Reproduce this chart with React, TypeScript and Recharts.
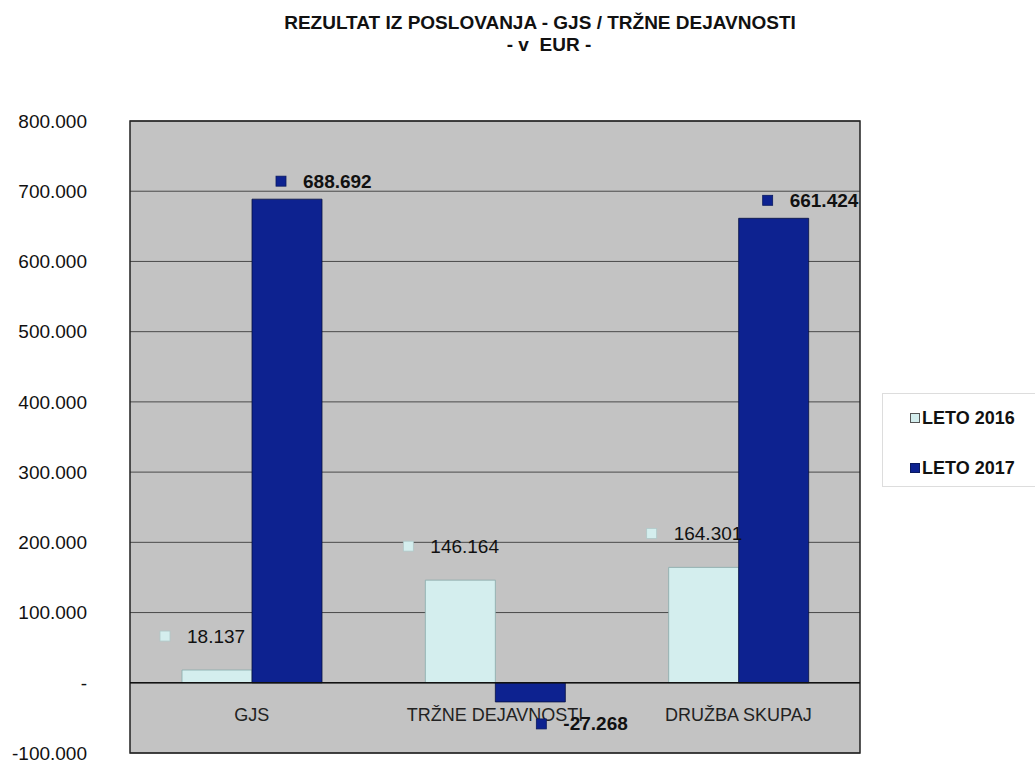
import React from "react"
import {
  Bar,
  BarChart,
  CartesianGrid,
  LabelList,
  ReferenceArea,
  ReferenceLine,
  XAxis,
  YAxis,
} from "recharts"

const categories = ["GJS", "TRŽNE DEJAVNOSTI", "DRUŽBA SKUPAJ"]
const leto2016 = [18137, 146164, 164301]
const leto2017 = [688692, -27268, 661424]
const yTicks = [-100000, 0, 100000, 200000, 300000, 400000, 500000, 600000, 700000, 800000]
const seriesNames = ["LETO 2016", "LETO 2017"]

const data = categories.map((name, i) => ({
  name,
  [seriesNames[0]]: leto2016[i],
  [seriesNames[1]]: leto2017[i],
}))

const C2016 = "#d4eeee"
const C2017 = "#0d2290"
const FONT = "'Liberation Sans', Arial, sans-serif"

const fmt = (v: number) => {
  if (v === 0) return "-"
  const s = Math.abs(v).toString().replace(/\B(?=(\d{3})+(?!\d))/g, ".")
  return (v < 0 ? "-" : "") + s
}

function makeLabel(fill: string, bold: boolean, dx: number, up: number) {
  return (props: any) => {
    const { x, y, width, height, value } = props
    const top = Math.min(y, y + height)
    const bottom = Math.max(y, y + height)
    const neg = value < 0
    const cx = x + width / 2 + (neg ? 11 : dx)
    const cy = neg ? bottom + 22 : top - up
    return (
      <g>
        <rect x={cx - 5} y={cy - 5} width={10} height={10} fill={fill} stroke={bold ? "#0a1a60" : "#b0c8c8"} strokeWidth={0.8} />
        <text
          x={cx + 22}
          y={cy}
          dominantBaseline="central"
          fontFamily={FONT}
          fontSize={19}
          fontWeight={bold ? "bold" : "normal"}
          fill="#111"
        >
          {fmt(value)}
        </text>
      </g>
    )
  }
}

const CatTick = (props: any) => {
  const { x, y, payload } = props
  return (
    <text x={x} y={y - 46} textAnchor="middle" dominantBaseline="central" fontFamily={FONT} fontSize={18} fill="#222">
      {payload.value}
    </text>
  )
}

const LegendBox = () => (
  <div
    style={{
      position: "absolute",
      left: 882,
      top: 393,
      width: 160,
      height: 94,
      background: "#fff",
      border: "1px solid #ddd",
      fontFamily: FONT,
      fontWeight: "bold",
      fontSize: 18,
      color: "#111",
      boxSizing: "border-box",
      paddingTop: 13,
      paddingLeft: 27,
    }}
  >
    {[
      [seriesNames[0], C2016, "#555"],
      [seriesNames[1], C2017, "#0a1a60"],
    ].map(([label, fill, stroke], i) => (
      <div key={label} style={{ display: "flex", alignItems: "center", marginBottom: i === 0 ? 28 : 0, lineHeight: "22px" }}>
        <span
          style={{
            display: "inline-block",
            width: 8,
            height: 8,
            background: fill,
            border: `1px solid ${stroke}`,
            marginRight: 2,
          }}
        />
        {label}
      </div>
    ))}
  </div>
)

export default function App() {
  return (
    <div style={{ width: 1035, height: 764, position: "relative", background: "#fff", overflow: "hidden" }}>
      <style>{"body{margin:0}"}</style>
      <div
        style={{
          position: "absolute",
          top: 12,
          left: 0,
          width: 1080,
          textAlign: "center",
          fontFamily: FONT,
          fontWeight: "bold",
          fontSize: 19,
          lineHeight: "22px",
          color: "#111",
        }}
      >
        <div>REZULTAT IZ POSLOVANJA - GJS / TRŽNE DEJAVNOSTI</div>
        <div style={{ paddingLeft: 18 }}>- v&nbsp; EUR -</div>
      </div>
      <BarChart
        width={1035}
        height={764}
        data={data}
        margin={{ top: 121, right: 175, bottom: 0, left: 0 }}
        barGap={0}
        barSize={70}
      >
        <CartesianGrid vertical={false} fill="#c3c3c3" fillOpacity={1} stroke="#4a4a4a" strokeWidth={1} horizontalValues={yTicks} />
        <ReferenceArea y1={-100000} y2={800000} fill="none" fillOpacity={0} stroke="#222" strokeWidth={1.5} />
        <XAxis dataKey="name" tick={<CatTick />} tickLine={false} axisLine={false} height={11} interval={0} />
        <YAxis
          width={130}
          domain={[-100000, 800000]}
          ticks={yTicks}
          tickFormatter={fmt}
          tickLine={false}
          axisLine={false}
          tickSize={0}
          tickMargin={43}
          tick={{ fontFamily: FONT, fontSize: 19, fill: "#111" }}
          interval={0}
        />
        <ReferenceLine y={0} stroke="#111" strokeWidth={1.5} />
        <Bar dataKey={seriesNames[0]} fill={C2016} stroke="#8aa" strokeWidth={0.8} isAnimationActive={false}>
          <LabelList dataKey={seriesNames[0]} content={makeLabel(C2016, false, -52, 34)} />
        </Bar>
        <Bar dataKey={seriesNames[1]} fill={C2017} stroke="#061040" strokeWidth={0.8} isAnimationActive={false}>
          <LabelList dataKey={seriesNames[1]} content={makeLabel(C2017, true, -6, 18)} />
        </Bar>
      </BarChart>
      <LegendBox />
    </div>
  )
}
